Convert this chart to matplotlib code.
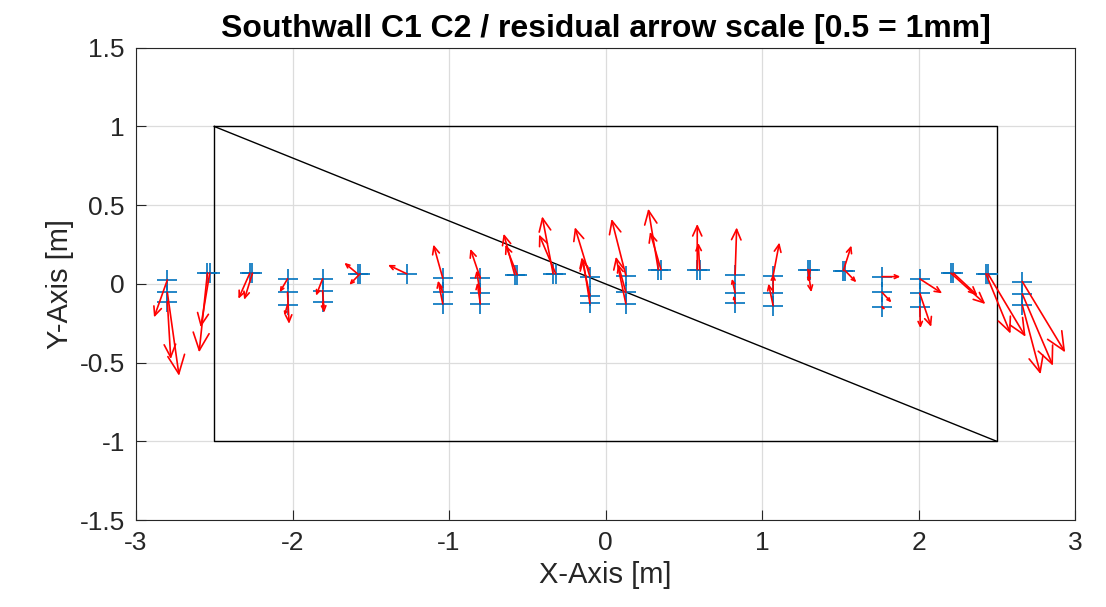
import matplotlib
matplotlib.use("Agg")
import matplotlib.pyplot as plt
from matplotlib.ticker import FuncFormatter
import numpy as np

plt.rcParams['font.family'] = ['Liberation Sans', 'DejaVu Sans']
plt.rcParams['axes.unicode_minus'] = False

# target positions on the wall [m]
pt_x = [-2.800, -2.800, -2.800, -2.544, -2.529, -2.273, -2.256,
        -2.032, -2.032, -2.032, -1.808, -1.808, -1.808, -1.584, -1.569,
        -1.270, -1.040, -1.040, -1.040, -0.800, -0.800, -0.800,
        -0.581, -0.565, -0.335, -0.318, -0.100, -0.100, -0.100,
        0.130, 0.130, 0.130, 0.337, 0.354, 0.586, 0.602,
        0.828, 0.828, 0.828, 1.071, 1.071, 1.071, 1.293, 1.308,
        1.520, 1.530, 1.767, 1.767, 1.767, 2.008, 2.008, 2.008,
        2.207, 2.223, 2.431, 2.444, 2.663, 2.663, 2.663]
pt_y = [0.025, -0.054, -0.113, 0.069, 0.069, 0.068, 0.068,
        0.032, -0.054, -0.132, 0.032, -0.043, -0.117, 0.064, 0.064,
        0.064, 0.036, -0.054, -0.127, 0.036, -0.059, -0.127,
        0.059, 0.059, 0.064, 0.064, 0.046, -0.075, -0.124,
        0.053, -0.054, -0.127, 0.091, 0.091, 0.091, 0.091,
        0.059, -0.057, -0.124, 0.053, -0.057, -0.138, 0.091, 0.091,
        0.085, 0.085, 0.046, -0.054, -0.145, 0.032, -0.060, -0.145,
        0.068, 0.068, 0.064, 0.064, 0.015, -0.064, -0.134]

# residuals, already scaled for the plot (0.5 = 1mm)
res_u = [-0.085, 0.075, 0.022, -0.053, -0.058, -0.073, -0.053,
         -0.050, 0.010, -0.020, -0.042, 0.010, 0.010, -0.085, -0.068,
         -0.120, -0.060, -0.020, -0.030, -0.064, -0.025, -0.020,
         -0.070, -0.075, -0.070, -0.107, -0.096, -0.053, -0.045,
         -0.092, -0.050, -0.064, -0.064, -0.070, 0.000, -0.010,
         0.010, -0.020, -0.010, 0.040, 0.000, -0.030, 0.022, -0.013,
         0.051, 0.073, 0.117, 0.060, 0.020, 0.143, 0.073, 0.004,
         0.220, 0.154, 0.157, 0.240, 0.274, 0.196, 0.117]
res_v = [-0.238, -0.530, -0.365, -0.504, -0.345, -0.163, -0.169,
         -0.085, -0.200, -0.070, -0.107, -0.140, -0.040, 0.070, -0.070,
         0.057, 0.214, 0.050, 0.148, 0.187, 0.144, 0.135,
         0.260, 0.190, 0.365, 0.250, 0.314, 0.244, 0.285,
         0.360, 0.180, 0.300, 0.387, 0.240, 0.290, 0.170,
         0.300, 0.090, 0.050, 0.210, 0.120, 0.140, -0.144, -0.080,
         0.159, -0.075, 0.000, -0.064, -0.020, -0.092, -0.213, -0.136,
         -0.196, -0.142, -0.380, -0.400, -0.450, -0.456, -0.440]

# wall outline and diagonal
wall_x = [-2.5, 2.5, 2.5, -2.5, -2.5]
wall_y = [1, 1, -1, -1, 1]
diag_x = [-2.5, 2.5]
diag_y = [1, -1]

fig = plt.figure(figsize=(11.06, 6.07), dpi=100)
ax = fig.add_axes([0.123, 0.1433, 0.849, 0.778])

ax.plot(wall_x, wall_y, color='black', lw=1)
ax.plot(diag_x, diag_y, color='black', lw=1)
ax.plot(pt_x, pt_y, '+', color='#0072BD', ms=14, mew=1.2, zorder=3)

ax.set_xlim(-3, 3)
ax.set_ylim(-1.5, 1.5)
ax.set_xticks(np.arange(-3, 3.1, 1))
ax.set_yticks(np.arange(-1.5, 1.6, 0.5))
fmt = FuncFormatter(lambda v, p: '%g' % v)
ax.xaxis.set_major_formatter(fmt)
ax.yaxis.set_major_formatter(fmt)

# arrows with heads proportional to length, like matlab quiver
p0 = ax.transData.transform((0, 0))
p1 = ax.transData.transform((1, 1))
sx, sy = p1[0] - p0[0], p1[1] - p0[1]
for x0, y0, du, dv in zip(pt_x, pt_y, res_u, res_v):
    L = np.hypot(du * sx, dv * sy) * 72 / fig.dpi
    ax.annotate('', xy=(x0 + du, y0 + dv), xytext=(x0, y0),
                arrowprops=dict(arrowstyle='->,head_length=%.2f,head_width=%.2f'
                                % (0.22 * L, 0.1 * L),
                                color='#ff0000', lw=1.2, shrinkA=0, shrinkB=0,
                                mutation_scale=1), zorder=4)

ax.grid(True, color='#dcdcdc', lw=0.9)
ax.set_axisbelow(True)
for s in ax.spines.values():
    s.set_color('#262626')
    s.set_linewidth(0.8)
ax.tick_params(direction='in', length=7, width=0.8, colors='#262626',
               labelsize=19, pad=8)

ax.set_xlabel('X-Axis [m]', fontsize=21, color='#262626')
ax.set_ylabel('Y-Axis [m]', fontsize=21, color='#262626')
ax.set_title('Southwall C1 C2 / residual arrow scale [0.5 = 1mm]',
             fontsize=23, fontweight='bold', pad=8)

fig.savefig('out.png', dpi=100)
